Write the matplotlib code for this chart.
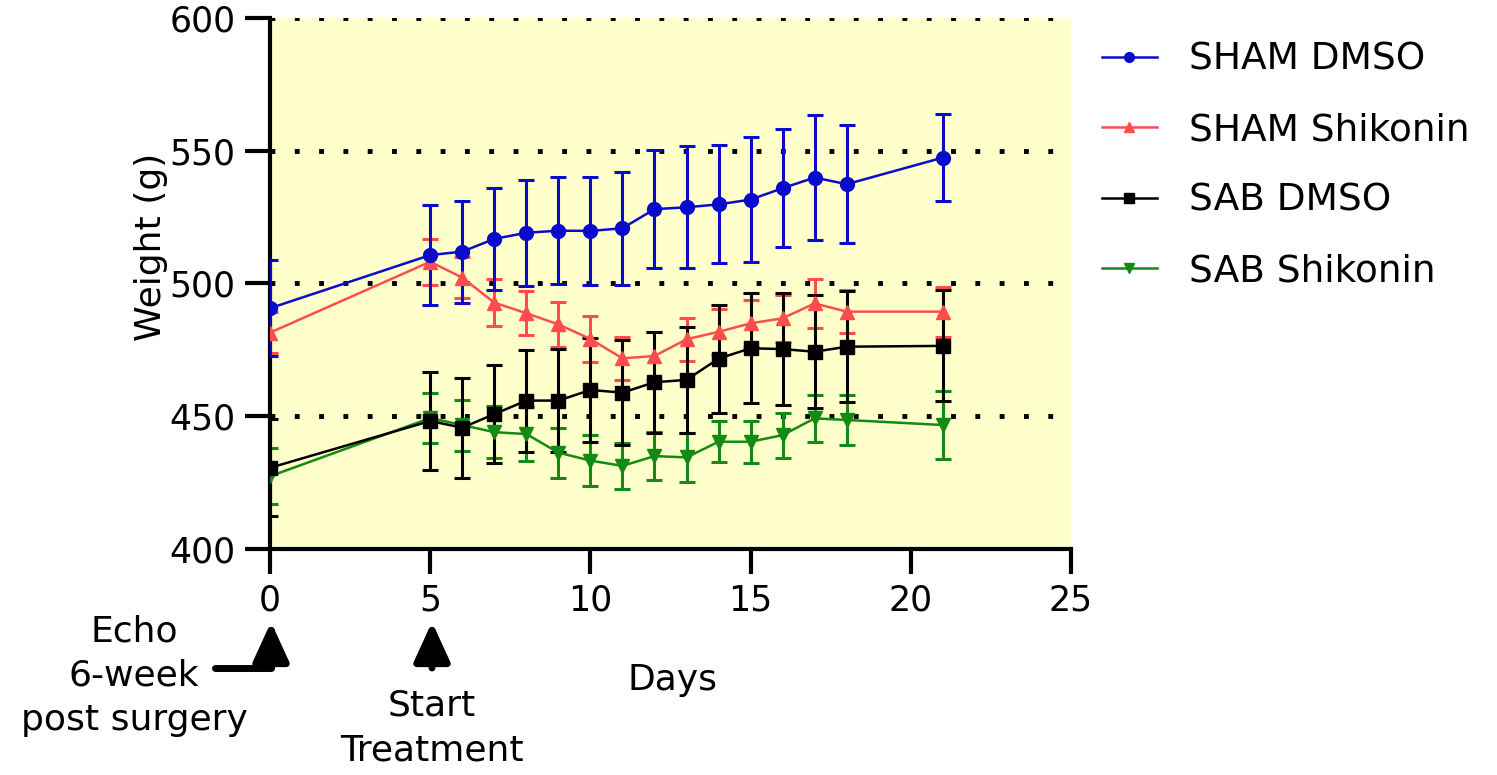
import matplotlib

matplotlib.use("Agg")
import matplotlib.pyplot as plt

plt.rcParams["font.family"] = ["DejaVu Sans"]

days = [0, 5, 6, 7, 8, 9, 10, 11, 12, 13, 14, 15, 16, 17, 18, 21]

sham_dmso = [490.7, 510.7, 512.0, 516.8, 519.1, 519.9, 519.8, 520.8, 528.0, 528.7, 529.8, 531.6, 535.9, 539.9, 537.4, 547.4]
sham_dmso_sem = [18.1, 18.9, 19.2, 19.2, 19.9, 20.2, 20.4, 21.3, 22.2, 22.9, 22.2, 23.4, 22.3, 23.5, 22.2, 16.3]

sham_shik = [481.5, 508.2, 502.2, 492.8, 488.8, 484.6, 479.1, 471.8, 472.7, 479.0, 481.8, 485.0, 486.9, 492.5, 489.4, 489.4]
sham_shik_sem = [7.7, 8.7, 7.8, 8.9, 8.2, 8.6, 8.5, 8.1, 9.1, 8.1, 8.7, 8.8, 8.8, 9.2, 8.1, 9.4]

sab_dmso = [430.6, 448.2, 445.7, 450.8, 455.9, 455.9, 459.9, 458.9, 462.8, 463.7, 471.7, 475.6, 475.3, 474.3, 476.2, 476.5]
sab_dmso_sem = [18.2, 18.5, 18.8, 18.5, 19.2, 19.5, 19.5, 19.9, 19.1, 20.0, 20.3, 20.7, 21.2, 21.2, 20.9, 20.9]

sab_shik = [427.4, 449.3, 446.7, 444.0, 443.3, 436.3, 433.3, 431.3, 435.0, 434.5, 440.4, 440.4, 442.9, 449.2, 448.6, 446.7]
sab_shik_sem = [10.5, 9.3, 9.6, 9.9, 10.0, 9.4, 9.6, 8.8, 9.1, 9.1, 7.7, 7.9, 8.5, 8.9, 9.3, 12.8]

x_ticks = [0, 5, 10, 15, 20, 25]
y_ticks = [400, 450, 500, 550, 600]
grid_levels = [450, 500, 550, 600]

FS_TICK = 25
FS = 26

fig = plt.figure(figsize=(14.97, 7.75), dpi=100)
ax = fig.add_axes([0.1804, 0.2916, 0.5350, 0.6852])
ax.set_facecolor("#FFFFCC")

for lvl in grid_levels:
    ax.axhline(lvl, color="black", lw=3.5, ls=(0, (1, 4)), zorder=1)

series = [
    ("SAB Shikonin", sab_shik, sab_shik_sem, "#138A13", "v"),
    ("SHAM Shikonin", sham_shik, sham_shik_sem, "#FF4D4D", "^"),
    ("SAB DMSO", sab_dmso, sab_dmso_sem, "black", "s"),
    ("SHAM DMSO", sham_dmso, sham_dmso_sem, "#0A0ACC", "o"),
]
handles = {}
for name, vals, sem, col, mk in series:
    h = ax.errorbar(days, vals, yerr=sem, color=col, marker=mk, markersize=10,
                    lw=1.8, elinewidth=2.2, capsize=6, capthick=2.2, zorder=3)
    handles[name] = h

ax.set_xlim(0, 25)
ax.set_ylim(400, 600)
ax.set_xticks(x_ticks)
ax.set_yticks(y_ticks)
for side in ("top", "right"):
    ax.spines[side].set_visible(False)
for side in ("left", "bottom"):
    ax.spines[side].set_linewidth(3)
ax.tick_params(direction="out", length=18, width=3, labelsize=FS_TICK, pad=7)
ax.set_ylabel("Weight (g)", fontsize=FS)
ax.yaxis.set_label_coords(-0.127, 0.569)
ax.set_xlabel("Days", fontsize=FS, va="center")
ax.xaxis.set_label_coords(0.502, -0.247)

order = ["SHAM DMSO", "SHAM Shikonin", "SAB DMSO", "SAB Shikonin"]
leg = fig.legend([handles[n][0] for n in order], order, loc="upper left",
                 bbox_to_anchor=(1068 / 1497, 1 - 8 / 775), frameon=False,
                 fontsize=27, handlelength=1.47, labelspacing=0.92,
                 handletextpad=0.85, markerscale=0.7)

# annotations below the x axis (figure pixels)
arrow = dict(arrowstyle="-|>,head_length=1.2,head_width=0.55", color="black",
             lw=5, mutation_scale=20, shrinkA=0, shrinkB=0)
ax.annotate("", xy=(271, 153), xytext=(215, 107), xycoords="figure pixels",
            textcoords="figure pixels",
            arrowprops=dict(arrow, connectionstyle="angle,angleA=0,angleB=90,rad=0"))
ax.annotate("", xy=(432, 153), xytext=(432, 107), xycoords="figure pixels",
            textcoords="figure pixels", arrowprops=arrow)

fig.text(134 / 1497, 99 / 775, "Echo\n6-week\npost surgery", ha="center", va="center",
         fontsize=FS, linespacing=1.38)
fig.text(432 / 1497, 47 / 775, "Start\nTreatment", ha="center", va="center",
         fontsize=FS, linespacing=1.38)

fig.savefig("out.png", dpi=100)
